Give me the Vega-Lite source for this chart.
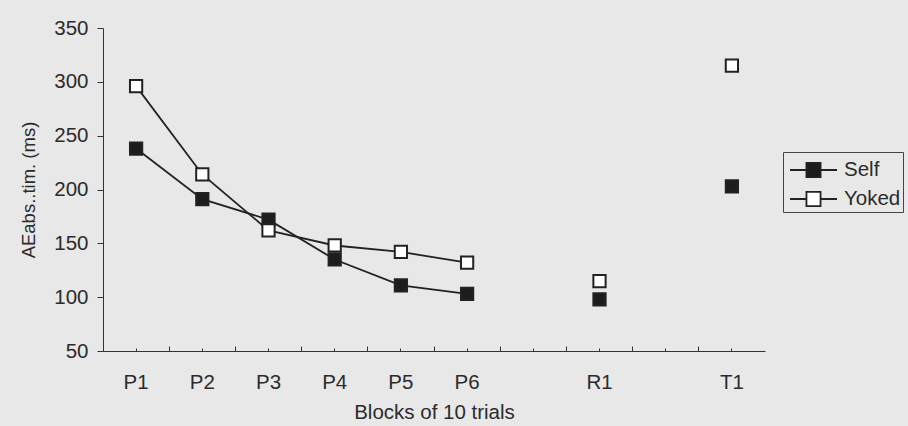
{
  "$schema": "https://vega.github.io/schema/vega-lite/v6.json",
  "width": 662,
  "height": 323,
  "autosize": {"type": "none"},
  "padding": {"left": 103, "top": 28, "right": 143, "bottom": 75},
  "background": "#e8e8e8",
  "config": {
    "view": {"stroke": null},
    "font": "Liberation Sans",
    "axis": {"labelColor": "#2b2b2b", "titleColor": "#2b2b2b", "domainColor": "#333", "tickColor": "#333", "grid": false, "titleFontWeight": "normal"},
    "legend": {"labelColor": "#2b2b2b"}
  },
  "data": {
    "values": [
      {"block": "P1", "group": "Self", "value": 238},
      {"block": "P2", "group": "Self", "value": 191},
      {"block": "P3", "group": "Self", "value": 172},
      {"block": "P4", "group": "Self", "value": 135},
      {"block": "P5", "group": "Self", "value": 111},
      {"block": "P6", "group": "Self", "value": 103},
      {"block": "R1", "group": "Self", "value": 98},
      {"block": "T1", "group": "Self", "value": 203},
      {"block": "P1", "group": "Yoked", "value": 296},
      {"block": "P2", "group": "Yoked", "value": 214},
      {"block": "P3", "group": "Yoked", "value": 162},
      {"block": "P4", "group": "Yoked", "value": 148},
      {"block": "P5", "group": "Yoked", "value": 142},
      {"block": "P6", "group": "Yoked", "value": 132},
      {"block": "R1", "group": "Yoked", "value": 115},
      {"block": "T1", "group": "Yoked", "value": 315}
    ]
  },
  "resolve": {"axis": {"x": "independent"}},
  "layer": [
    {
      "encoding": {
        "x": {
          "field": "block", "type": "ordinal",
          "scale": {"type": "band", "domain": ["P1","P2","P3","P4","P5","P6","gap1","R1","gap2","T1"], "paddingInner": 0, "paddingOuter": 0},
          "axis": {
            "orient": "bottom", "tickSize": -3, "labelPadding": 24,
            "labelFontSize": 20.5, "labelAngle": 0,
            "labelExpr": "indexof(datum.value,'gap')==0 ? '' : datum.value",
            "title": "Blocks of 10 trials", "titleFontSize": 20.5, "titlePadding": 10
          }
        },
        "y": {
          "field": "value", "type": "quantitative",
          "scale": {"domain": [50, 350], "nice": false, "zero": false},
          "axis": {"values": [50,100,150,200,250,300,350], "tickSize": 6, "labelPadding": 9, "labelFontSize": 20.5,
                   "title": "AEabs..tim. (ms)", "titleFontSize": 18.5, "titlePadding": 15}
        }
      },
      "layer": [
        {
          "transform": [{"filter": "indexof(datum.block,'P')==0"}],
          "mark": {"type": "line", "color": "#222", "strokeWidth": 1.8},
          "encoding": {"detail": {"field": "group", "type": "nominal"}}
        },
        {
          "mark": {"type": "point", "shape": "square", "size": 150, "filled": true, "stroke": "#222", "strokeWidth": 2, "opacity": 1},
          "encoding": {
            "fill": {
              "field": "group", "type": "nominal",
              "scale": {"domain": ["Self", "Yoked"], "range": ["#1c1c1c", "#ffffff"]},
              "legend": {
                "title": null, "orient": "none", "legendX": 680, "legendY": 124,
                "symbolType": "M-1.567,0H-0.47M0.47,0H1.567M-0.47,-0.47H0.47V0.47H-0.47Z",
                "symbolSize": 900, "symbolStrokeColor": "#222", "symbolStrokeWidth": 1.8,
                "symbolOffset": 12.5, "labelOffset": 14.5, "labelFontSize": 20.5,
                "rowPadding": 2, "padding": 2, "strokeColor": "#444"
              }
            }
          }
        }
      ]
    },
    {
      "mark": {"type": "point", "opacity": 0},
      "encoding": {
        "x": {
          "field": "block", "type": "ordinal",
          "axis": {"orient": "bottom", "bandPosition": 0, "tickSize": -5, "labels": false, "domain": false, "title": null}
        },
        "y": {"field": "value", "type": "quantitative"}
      }
    }
  ]
}
